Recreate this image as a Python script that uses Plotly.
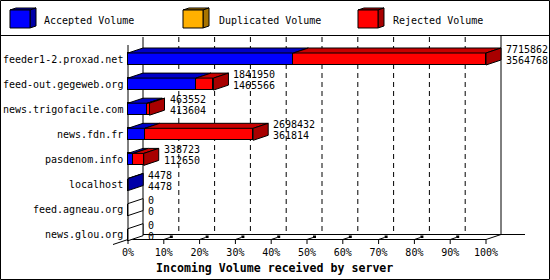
import plotly.graph_objects as go

# ---------------- data ----------------
servers = ["feeder1-2.proxad.net", "feed-out.gegeweb.org", "news.trigofacile.com",
           "news.fdn.fr", "pasdenom.info", "localhost", "feed.agneau.org", "news.glou.org"]
total_volume = [7715862, 1841950, 463552, 2698432, 338723, 4478, 0, 0]
accepted_volume = [3564768, 1465566, 413604, 361814, 112650, 4478, 0, 0]
duplicated_volume = [0, 0, 0, 0, 0, 0, 0, 0]
rejected_volume = [t - a - d for t, a, d in zip(total_volume, accepted_volume, duplicated_volume)]

series_names = ["Accepted Volume", "Duplicated Volume", "Rejected Volume"]
series_colors = [(0, 0, 255), (255, 176, 0), (255, 0, 0)]
x_ticks = list(range(0, 101, 10))
x_tick_labels = [f"{v}%" for v in x_ticks]
x_title = "Incoming Volume received by server"

# ---------------- layout geometry ----------------
W, H = 550, 280
L, R, T, B = 105, 530, 36, 245          # plot area in pixels
X0_PX, PX_PCT = 128, 3.58               # 0% position, pixels per percent
Y0_PX, PX_CAT = 59, 25.1                # first category centre, pixels per category
DX = 15 / PX_PCT                        # 3D depth in x data units
DY = 5 / PX_CAT                         # 3D depth in y data units
BAR_W = 12 / PX_CAT
FONT = "DejaVu Sans Mono"

xr = [(L - X0_PX) / PX_PCT, (R - X0_PX) / PX_PCT]
yr = [(B - Y0_PX) / PX_CAT, (T - Y0_PX) / PX_CAT]   # reversed
def ydat(py):
    return (py - Y0_PX) / PX_CAT
def paper(px, py):
    return (px - L) / (R - L), (B - py) / (B - T)

def shade(c, f):
    return "rgb(%d,%d,%d)" % tuple(int(round(v * f)) for v in c)
def rgb(c):
    return "rgb(%d,%d,%d)" % c

n = len(servers)
scale = max(total_volume)
series = [accepted_volume, duplicated_volume, rejected_volume]
pcts = [[v / scale * 100 for v in s] for s in series]
idx = list(range(n))

fig = go.Figure()

# front faces (library bars)
for name, p, c in zip(series_names, pcts, series_colors):
    fig.add_trace(go.Bar(y=idx, x=p, orientation="h", width=BAR_W, name=name,
                         marker=dict(color=rgb(c), line=dict(color="black", width=1)),
                         showlegend=False, hoverinfo="skip"))

# 3D top and side faces
polys = {}
def add_poly(color, pts):
    xs, ys = polys.setdefault(color, ([], []))
    for x, y in pts + [pts[0]]:
        xs.append(x); ys.append(y)
    xs.append(None); ys.append(None)

for i in idx:
    yt = i - BAR_W / 2
    yb = i + BAR_W / 2
    x0 = 0.0
    last = None
    for s, c in zip(pcts, series_colors):
        v = s[i]
        if v > 0:
            x1 = x0 + v
            add_poly(shade(c, 0.78), [(x0, yt), (x0 + DX, yt - DY), (x1 + DX, yt - DY), (x1, yt)])
            last = (x1, c)
            x0 = x1
    if last is None:
        x1, col = 0.0, "white"
    else:
        x1, col = last[0], shade(last[1], 0.66)
    add_poly(col, [(x1, yt), (x1 + DX, yt - DY), (x1 + DX, yb - DY), (x1, yb)])

for col, (xs, ys) in polys.items():
    fig.add_trace(go.Scatter(x=xs, y=ys, mode="lines", fill="toself", fillcolor=col,
                             line=dict(color="black", width=1), showlegend=False,
                             hoverinfo="skip"))

shapes = []
FB = ydat(239.5)         # front bottom
BB = FB - DY             # back bottom
TOP = ydat(37)
def line(x0, y0, x1, y1, dash=None, width=1):
    d = dict(type="line", x0=x0, y0=y0, x1=x1, y1=y1, xref="x", yref="y",
             line=dict(color="black", width=width), layer="below")
    if dash:
        d["line"]["dash"] = dash
    shapes.append(d)

# gridlines on back plane
for v in x_ticks[1:-1]:
    line(v + DX, TOP, v + DX, BB, dash="5px,4px")
# frame
line(DX, TOP, DX, BB)
line(100 + DX, ydat(35), 100 + DX, BB)
line(DX, BB, (525 - X0_PX) / PX_PCT, BB)
line(-DX, FB + DY, DX, BB)
line(0, ydat(45), 0, FB)
line(0, FB, 100, FB)
line(100, FB, 100 + DX, BB)
# ticks
for v in x_ticks:
    line(v, FB, v, ydat(244))
    if 0 < v < 100:
        line(v, FB, v + 6 / PX_PCT, ydat(237.5))
        shapes.append(dict(type="rect", xref="x", yref="y", x0=v + 6 / PX_PCT, x1=v + 9 / PX_PCT,
                           y0=ydat(235.5), y1=ydat(238), fillcolor="black",
                           line=dict(width=0), layer="below"))

# outer border and legend separator
bx0, by0 = paper(0.5, 0.5)
bx1, by1 = paper(549.5, 279.5)
shapes.append(dict(type="rect", xref="paper", yref="paper", x0=bx0, y0=by0, x1=bx1, y1=by1,
                   line=dict(color="black", width=1), fillcolor="rgba(0,0,0,0)"))
sx0, sy = paper(0, 35.5)
sx1, _ = paper(550, 35.5)
shapes.append(dict(type="line", xref="paper", yref="paper", x0=sx0, y0=sy, x1=sx1, y1=sy,
                   line=dict(color="black", width=1)))

annotations = []
# legend cubes
legend_x = [10, 183, 358]
legend_text_x = [42, 217, 391]
def ppath(pts):
    s = ""
    for k, (px, py) in enumerate(pts):
        x, y = paper(px, py)
        s += ("M" if k == 0 else "L") + f"{x:.5f},{y:.5f}"
    return s + "Z"
for name, c, lx, tx in zip(series_names, series_colors, legend_x, legend_text_x):
    fx0, fx1, fy0, fy1 = lx, lx + 20, 10, 28
    ddx, ddy = 6, 2
    shapes.append(dict(type="path", xref="paper", yref="paper",
                       path=ppath([(fx0, fy0), (fx0 + ddx, fy0 - ddy), (fx1 + ddx, fy0 - ddy), (fx1, fy0)]),
                       fillcolor=shade(c, 0.78), line=dict(color="black", width=1)))
    shapes.append(dict(type="path", xref="paper", yref="paper",
                       path=ppath([(fx1, fy0), (fx1 + ddx, fy0 - ddy), (fx1 + ddx, fy1 - ddy), (fx1, fy1)]),
                       fillcolor=shade(c, 0.66), line=dict(color="black", width=1)))
    shapes.append(dict(type="path", xref="paper", yref="paper",
                       path=ppath([(fx0, fy0), (fx1, fy0), (fx1, fy1), (fx0, fy1)]),
                       fillcolor=rgb(c), line=dict(color="black", width=1)))
    ax, ay = paper(tx, 20)
    annotations.append(dict(text=name, x=ax, y=ay, xref="paper", yref="paper",
                            xanchor="left", yanchor="middle", showarrow=False,
                            font=dict(family=FONT, size=10, color="black")))

# category labels
for i, s in enumerate(servers):
    annotations.append(dict(text=s, x=0, y=i, xref="x", yref="y", xanchor="right",
                            yanchor="middle", xshift=-3, showarrow=False,
                            font=dict(family=FONT, size=10, color="black")))
# value labels
for i in idx:
    xend = pcts[0][i] + pcts[1][i] + pcts[2][i] + DX
    annotations.append(dict(text=str(total_volume[i]), x=xend, y=i, xref="x", yref="y",
                            xanchor="left", yanchor="middle", xshift=3, yshift=9.5,
                            showarrow=False, font=dict(family=FONT, size=10, color="black")))
    annotations.append(dict(text=str(accepted_volume[i]), x=xend, y=i, xref="x", yref="y",
                            xanchor="left", yanchor="middle", xshift=3, yshift=-1.5,
                            showarrow=False, font=dict(family=FONT, size=10, color="black")))
# x title
tx, ty = paper(274, 268)
annotations.append(dict(text="<b>" + x_title + "</b>", x=tx, y=ty, xref="paper", yref="paper",
                        xanchor="center", yanchor="middle", showarrow=False,
                        font=dict(family=FONT, size=11.6, color="black")))

fig.update_layout(
    width=W, height=H, margin=dict(l=L, r=W - R, t=T, b=H - B, pad=0),
    paper_bgcolor="white", plot_bgcolor="white", barmode="stack", bargap=0,
    showlegend=False, shapes=shapes, annotations=annotations,
    xaxis=dict(range=xr, showgrid=False, zeroline=False, showline=False, ticks="",
               tickvals=x_ticks, ticktext=x_tick_labels, fixedrange=True,
               tickfont=dict(family=FONT, size=10, color="black")),
    yaxis=dict(range=yr, showgrid=False, zeroline=False, showline=False,
               showticklabels=False, fixedrange=True),
)
fig.write_html("out.html")
